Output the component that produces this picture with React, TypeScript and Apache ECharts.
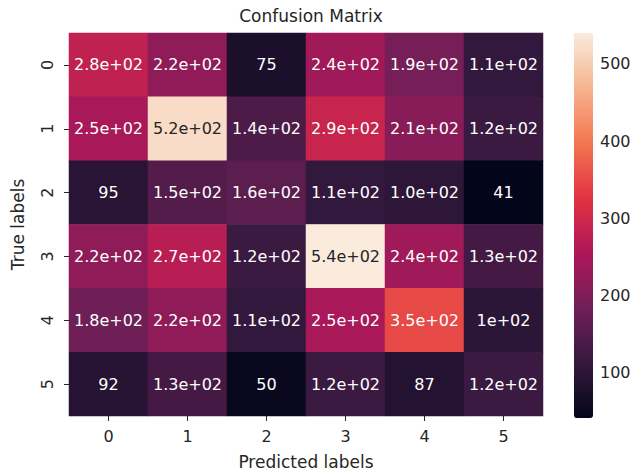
import React, { useEffect, useRef } from "react";
import * as echarts from "echarts";

const predictedLabels = ["0", "1", "2", "3", "4", "5"];
const trueLabels = ["0", "1", "2", "3", "4", "5"];
const row0 = [280, 220, 75, 240, 190, 110];
const row1 = [250, 520, 140, 290, 210, 120];
const row2 = [95, 150, 160, 110, 103, 41];
const row3 = [220, 270, 120, 540, 240, 130];
const row4 = [180, 220, 110, 250, 350, 100];
const row5 = [92, 130, 50, 120, 87, 120];
const matrix = [row0, row1, row2, row3, row4, row5];
const colorbarTicks = [100, 200, 300, 400, 500];
const rocket = ["#03051a", "#35193e", "#701f57", "#ad1759", "#e13342", "#f37651", "#f6b48f", "#faebdd"];

function fmt(v: number): string {
  if (Math.abs(v) < 100) return String(Math.round(v));
  const parts = v.toExponential(1).split("e");
  let m = parts[0];
  const exp = parseInt(parts[1], 10);
  if (m.endsWith(".0") && Number(m) * Math.pow(10, exp) === v) m = m.slice(0, -2);
  const sign = exp < 0 ? "-" : "+";
  return `${m}e${sign}${String(Math.abs(exp)).padStart(2, "0")}`;
}

const FONT = "DejaVu Sans";
const TEXT = "#262626";

export default function App() {
  const ref = useRef<HTMLDivElement>(null);
  useEffect(() => {
    if (!ref.current) return;
    const chart = echarts.init(ref.current, undefined, { renderer: "svg" });
    const all = matrix.flat();
    const vmin = Math.min(...all);
    const vmax = Math.max(...all);
    const data: any[] = [];
    matrix.forEach((row, r) =>
      row.forEach((v, c) => {
        data.push({
          value: [c, r, v],
          label: { color: (v - vmin) / (vmax - vmin) > 0.8 ? TEXT : "#ffffff" },
        });
      })
    );
    chart.setOption({
      animation: false,
      backgroundColor: "#ffffff",
      title: {
        text: "Confusion Matrix",
        left: 306,
        textAlign: "center",
        top: 2,
        textStyle: { fontFamily: FONT, fontSize: 17, fontWeight: "normal", color: TEXT },
      },
      grid: [
        { left: 69, top: 33, width: 474, height: 385 },
        { left: 574, top: 33, width: 19, height: 385 },
      ],
      xAxis: [
        {
          type: "category",
          data: predictedLabels,
          gridIndex: 0,
          position: "bottom",
          axisLine: { show: false },
          axisTick: { show: true, alignWithLabel: true, length: 5, lineStyle: { color: TEXT } },
          axisLabel: { fontFamily: FONT, fontSize: 16, color: TEXT, margin: 12 },
          splitArea: { show: false },
          name: "Predicted labels",
          nameLocation: "middle",
          nameGap: 37,
          nameTextStyle: { fontFamily: FONT, fontSize: 17, color: TEXT },
        },
        { type: "value", gridIndex: 1, show: false, min: 0, max: 1 },
      ],
      yAxis: [
        {
          type: "category",
          data: trueLabels,
          gridIndex: 0,
          inverse: true,
          axisLine: { show: false },
          axisTick: { show: true, alignWithLabel: true, length: 5, lineStyle: { color: TEXT } },
          axisLabel: { fontFamily: FONT, fontSize: 16, color: TEXT, margin: 14, rotate: 90 },
          splitArea: { show: false },
          name: "True labels",
          nameLocation: "middle",
          nameGap: 43,
          nameRotate: 90,
          nameTextStyle: { fontFamily: FONT, fontSize: 17, color: TEXT },
        },
        {
          type: "value",
          gridIndex: 1,
          position: "right",
          min: vmin,
          max: vmax,
          axisLine: { show: false },
          splitLine: { show: false },
          axisTick: { show: true, length: 4, lineStyle: { color: TEXT }, customValues: colorbarTicks },
          axisLabel: { fontFamily: FONT, fontSize: 16, color: TEXT, margin: 7, customValues: colorbarTicks },
        },
      ],
      visualMap: {
        type: "continuous",
        min: vmin,
        max: vmax,
        seriesIndex: 0,
        show: true,
        calculable: false,
        orient: "vertical",
        left: 574,
        top: 33,
        padding: 0,
        itemWidth: 19,
        itemHeight: 385,
        text: null,
        inRange: { color: rocket },
      },
      series: [
        {
          type: "heatmap",
          xAxisIndex: 0,
          yAxisIndex: 0,
          data,
          label: {
            show: true,
            fontFamily: FONT,
            fontSize: 16,
            formatter: (p: any) => fmt(p.value[2]),
          },
          itemStyle: { borderWidth: 0 },
          emphasis: { disabled: true },
        },
      ],
    });
    return () => chart.dispose();
  }, []);
  return (
    <div
      ref={ref}
      style={{ position: "fixed", left: 0, top: 0, width: 640, height: 475, background: "#fff" }}
    />
  );
}
